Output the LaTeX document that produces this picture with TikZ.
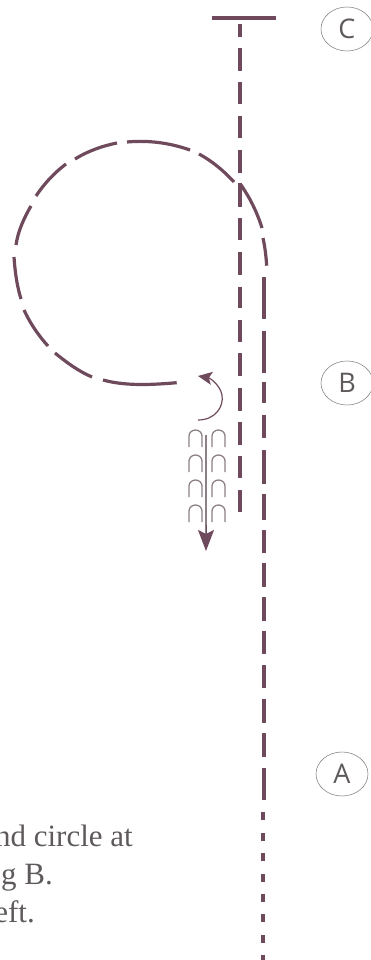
\documentclass[tikz,border=0pt]{standalone}
\usepackage{fontspec}
\setmainfont{Liberation Serif}
\newfontfamily\labelfont{Open Sans}
\usetikzlibrary{arrows.meta}
\usetikzlibrary{shapes.geometric}
\definecolor{plum}{HTML}{6F4A5C}
\definecolor{ringgray}{HTML}{8A8A8A}
\definecolor{notegray}{HTML}{5E5A5C}
\definecolor{archgray}{HTML}{8C7F86}
\tikzset{
  path dash/.style={draw=plum, line width=3.2pt},
  marker/.style={draw=ringgray, line width=0.6pt, shape=ellipse, minimum width=52pt, minimum height=44pt, inner sep=0pt, text=notegray, font=\labelfont\fontsize{27}{27}\selectfont},
  note/.style={inner sep=0pt, text=notegray, font=\fontsize{31}{31}\selectfont},
  arch/.style={draw=archgray, line width=1.3pt}
}
\begin{document}
\begin{tikzpicture}[x=1pt, y=-1pt, line join=round]
          \useasboundingbox (0,0) rectangle (371,960);
          % end line at top
          \draw[plum, line width=3.4pt] (212,18) -- (276,18);
          % straight run, centre line
          \foreach \a/\b in {24/37, 48/71, 82/104, 116/138, 150/173, 183/207, 218/240, 252/275, 287/308, 320/342, 353/376, 388/411, 422/445, 456/478, 490/512}{
            \draw[path dash] (240,\a) -- (240,\b);
          }
          % circle, as separate strokes from the finish back round
          \draw[path dash] (176.7,382.7) .. controls (150,385) and (125,386) .. (103,380);
          \draw[path dash] (92,377) .. controls (78,371) and (66,362) .. (55,353);
          \draw[path dash] (48,346) .. controls (38,335) and (30,323) .. (24,310);
          \draw[path dash] (21,299) .. controls (17,286) and (15,272) .. (14,257);
          \draw[path dash] (16,245) .. controls (18,231) and (24,218) .. (31,206);
          \draw[path dash] (36,196) .. controls (44,184) and (54,173) .. (66,164);
          \draw[path dash] (75,159) .. controls (88,151) and (102,146) .. (117,143);
          \draw[path dash] (127,142) .. controls (149,140) and (170,143) .. (190,150);
          \draw[path dash] (199,154) .. controls (212,161) and (224,171) .. (234,182);
          \draw[path dash] (241,185) .. controls (250,198) and (257,212) .. (262,228);
          \draw[path dash] (263,238) .. controls (265,247) and (266,256) .. (266.7,265.7);
          % straight run, right line
          \foreach \a/\b in {277/319, 331/373, 382/403, 415/438, 450/484, 494/520, 530/553, 563/587, 597/621, 631/654, 665/688, 699/723, 733/757, 768/800}{
            \draw[path dash] (264,\a) -- (264,\b);
          }
          % short dashes at the start
          \foreach \a in {812, 833, 853, 874, 894, 914, 935, 955}{
            \draw[path dash, line width=3.6pt] (263,\a) -- (263,\a+8);
          }
          % small turn arrow
          \draw[plum, line width=1.2pt, -{Stealth[length=14pt,width=13pt,inset=3pt]}] (198,420) .. controls (215,420) and (224,407) .. (222,395) .. controls (220,385) and (210,378) .. (198,376);
          % arches, four rows, either side
          \foreach \y in {430, 455, 480, 505}{
            \foreach \x in {189, 212}{
              \draw[arch] (\x,\y+17) -- (\x,\y+6) arc (180:360:6.5 and 6) -- (\x+13,\y+17);
            }
          }
          \draw[archgray, line width=2pt] (206,435) -- (206,535);
          \draw[plum, line width=1pt, -{Stealth[length=21pt,width=16pt,inset=4pt]}] (206,525) -- (206,551);
          % ring labels
          \node[marker] (ringC) at (347,29) {C};
          \node[marker] (ringB) at (347,383) {B};
          \node[marker] (ringA) at (342,774) {A};
          % note, cut at the left edge
          \node[note, anchor=base east] (noteA) at (133,846) {nd circle at};
          \node[note, anchor=base east] (noteB) at (53,884) {g B.};
          \node[note, anchor=base east] (noteC) at (35,922) {eft.};
        \end{tikzpicture}
\end{document}
